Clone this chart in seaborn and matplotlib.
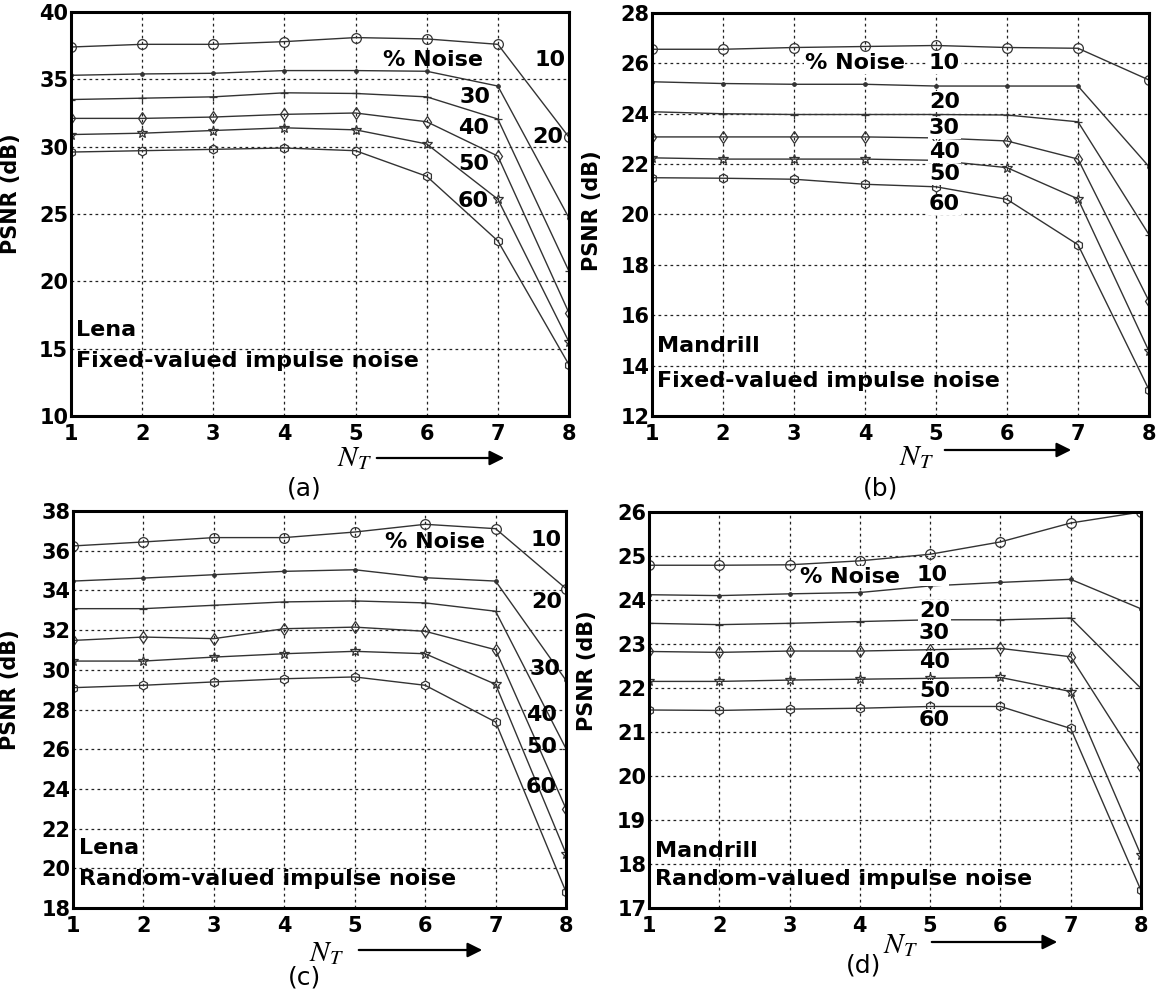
import matplotlib
matplotlib.use("Agg")
import matplotlib.pyplot as plt
from matplotlib.patches import FancyArrowPatch
import numpy as np
import pandas as pd
import seaborn as sns

# ---- data ---------------------------------------------------------------
NT = [1, 2, 3, 4, 5, 6, 7, 8]
NOISE = [10, 20, 30, 40, 50, 60]

# PSNR (dB) per noise level (rows) and N_T (columns)
lena_fixed = [
    [37.4, 37.6, 37.6, 37.8, 38.1, 38.0, 37.6, 30.7],
    [35.3, 35.4, 35.45, 35.65, 35.65, 35.6, 34.5, 24.7],
    [33.5, 33.6, 33.7, 34.0, 33.95, 33.7, 32.05, 20.75],
    [32.1, 32.1, 32.2, 32.4, 32.5, 31.85, 29.3, 17.65],
    [30.9, 31.0, 31.2, 31.4, 31.25, 30.2, 26.1, 15.5],
    [29.6, 29.7, 29.8, 29.9, 29.7, 27.8, 23.0, 13.8],
]
mandrill_fixed = [
    [26.56, 26.56, 26.63, 26.67, 26.71, 26.63, 26.6, 25.34],
    [25.27, 25.2, 25.17, 25.17, 25.1, 25.1, 25.1, 21.9],
    [24.08, 24.0, 23.97, 23.97, 23.97, 23.95, 23.68, 19.2],
    [23.08, 23.08, 23.08, 23.08, 23.04, 22.92, 22.2, 16.56],
    [22.25, 22.2, 22.2, 22.2, 22.15, 21.86, 20.62, 14.57],
    [21.46, 21.44, 21.4, 21.2, 21.1, 20.6, 18.8, 13.04],
]
lena_random = [
    [36.24, 36.44, 36.66, 36.66, 36.94, 37.33, 37.11, 34.09],
    [34.47, 34.62, 34.79, 34.96, 35.04, 34.64, 34.47, 29.47],
    [33.08, 33.08, 33.25, 33.42, 33.47, 33.37, 32.95, 26.03],
    [31.48, 31.65, 31.57, 32.07, 32.15, 31.94, 31.01, 23.0],
    [30.44, 30.44, 30.64, 30.81, 30.93, 30.81, 29.27, 20.74],
    [29.1, 29.22, 29.39, 29.55, 29.64, 29.22, 27.37, 18.81],
]
mandrill_random = [
    [24.79, 24.79, 24.8, 24.89, 25.04, 25.32, 25.75, 26.0],
    [24.12, 24.1, 24.14, 24.17, 24.32, 24.4, 24.47, 23.8],
    [23.47, 23.44, 23.47, 23.51, 23.55, 23.55, 23.59, 21.99],
    [22.83, 22.81, 22.84, 22.84, 22.87, 22.9, 22.71, 20.21],
    [22.15, 22.15, 22.18, 22.2, 22.22, 22.24, 21.92, 18.2],
    [21.5, 21.49, 21.52, 21.54, 21.58, 21.58, 21.08, 17.4],
]

# ---- style --------------------------------------------------------------
sns.set_style("white")
plt.rcParams["font.family"] = ["DejaVu Sans"]
plt.rcParams["mathtext.fontset"] = "stix"
for key in ("text.color", "axes.labelcolor", "xtick.color", "ytick.color"):
    plt.rcParams[key] = "black"

W, H = 1163, 996
fig = plt.figure(figsize=(W / 100, H / 100), dpi=100)
fig.patch.set_facecolor("white")

LINE = "#333333"
MARKERS = {
    10: dict(marker="o", ms=7, mfc="none"),
    20: dict(marker=".", ms=5, mfc=LINE),
    30: dict(marker="+", ms=6, mfc="none"),
    40: dict(marker="d", ms=6.5, mfc="none"),
    50: dict(marker="*", ms=7.5, mfc="none"),
    60: dict(marker="h", ms=6.5, mfc="none"),
}


def px_axes(left, top, right, bottom):
    return fig.add_axes([left / W, 1 - bottom / H, (right - left) / W, (bottom - top) / H])


def fx(x):
    return x / W


def fy(y):
    return 1 - y / H


def draw_panel(ax, table, ylim, ystep, ylab_xy):
    rows = []
    for level, vals in zip(NOISE, table):
        for n, v in zip(NT, vals):
            rows.append({"NT": n, "PSNR": v, "noise": level})
    df = pd.DataFrame(rows)
    for level in NOISE:
        sub = df[df["noise"] == level]
        m = MARKERS[level]
        sns.lineplot(data=sub, x="NT", y="PSNR", ax=ax, color=LINE, lw=1.0,
                     marker=m["marker"], ms=m["ms"], mfc=m["mfc"],
                     mec=LINE, mew=0.9, legend=False, errorbar=None)
    ax.set_xlim(1, 8)
    ax.set_ylim(*ylim)
    ax.set_xticks(NT)
    ax.set_yticks(np.arange(ylim[0], ylim[1] + 0.01, ystep))
    ax.grid(True, color="#222222", linestyle=(0, (2.2, 2.6)), lw=0.9)
    for s in ax.spines.values():
        s.set_linewidth(2.2)
        s.set_color("black")
        s.set_visible(True)
    ax.tick_params(direction="in", length=3, width=1, labelsize=15, pad=2)
    ax.tick_params(axis="x", pad=6)
    for lab in ax.get_xticklabels() + ax.get_yticklabels():
        lab.set_fontweight("heavy")
    ax.set_xlabel("")
    ax.set_ylabel("PSNR (dB)", fontsize=15, fontweight="heavy")
    ax.yaxis.set_label_coords(*ylab_xy)


def text(ax, x, y, s, boxed=False, ha="left"):
    kw = dict(fontsize=16, fontweight="heavy", ha=ha, va="center", color="black")
    if boxed:
        kw["bbox"] = dict(facecolor="white", edgecolor="none", pad=0.5)
    ax.text(x, y, s, **kw)


def nt_label(x, y, x0, x1, ya, tag, tx, ty):
    fig.text(fx(x), fy(y), r"$N_T$", fontsize=21, ha="center", va="center")
    fig.add_artist(FancyArrowPatch((fx(x0), fy(ya)), (fx(x1), fy(ya)),
                                   transform=fig.transFigure, arrowstyle="-|>",
                                   mutation_scale=22, lw=1.6, color="black"))
    fig.text(fx(tx), fy(ty), tag, fontsize=18, ha="center", va="center")


# (a) Lena, fixed-valued impulse noise
ax_a = px_axes(71, 12, 569, 416)
draw_panel(ax_a, lena_fixed, (10, 40), 5, (-0.10, 0.55))
text(ax_a, 5.38, 36.45, "% Noise")
text(ax_a, 7.52, 36.45, "10")
text(ax_a, 6.46, 33.67, "30")
text(ax_a, 6.44, 31.36, "40")
text(ax_a, 6.44, 28.7, "50")
text(ax_a, 6.44, 26.0, "60")
text(ax_a, 7.48, 30.7, "20")
text(ax_a, 1.07, 16.4, "Lena")
text(ax_a, 1.07, 14.05, "Fixed-valued impulse noise")
nt_label(354, 458, 374, 507, 458, "(a)", 304, 488)

# (b) Mandrill, fixed-valued impulse noise
ax_b = px_axes(652, 13, 1149, 416)
draw_panel(ax_b, mandrill_fixed, (12, 28), 2, (-0.10, 0.51))
text(ax_b, 3.15, 26.0, "% Noise", boxed=True)
text(ax_b, 4.9, 26.0, "10", boxed=True)
text(ax_b, 4.9, 24.48, "20", boxed=True)
text(ax_b, 4.9, 23.44, "30", boxed=True)
text(ax_b, 4.9, 22.48, "40", boxed=True)
text(ax_b, 4.9, 21.6, "50", boxed=True)
text(ax_b, 4.9, 20.4, "60", boxed=True)
text(ax_b, 1.07, 14.77, "Mandrill")
text(ax_b, 1.07, 13.4, "Fixed-valued impulse noise")
nt_label(916, 457, 942, 1074, 450, "(b)", 881, 488)

# (c) Lena, random-valued impulse noise
ax_c = px_axes(73, 511, 566, 908)
draw_panel(ax_c, lena_random, (18, 38), 2, (-0.107, 0.55))
text(ax_c, 5.43, 36.44, "% Noise")
text(ax_c, 7.50, 36.52, "10")
text(ax_c, 7.50, 33.42, "20")
text(ax_c, 7.48, 30.06, "30")
text(ax_c, 7.43, 27.7, "40")
text(ax_c, 7.43, 26.1, "50")
text(ax_c, 7.43, 24.1, "60")
text(ax_c, 1.08, 21.0, "Lena")
text(ax_c, 1.08, 19.48, "Random-valued impulse noise")
nt_label(326, 953, 356, 485, 950, "(c)", 304, 977)

# (d) Mandrill, random-valued impulse noise
ax_d = px_axes(649, 512, 1141, 908)
draw_panel(ax_d, mandrill_random, (17, 26), 1, (-0.106, 0.60))
text(ax_d, 3.15, 24.52, "% Noise", boxed=True)
text(ax_d, 4.81, 24.57, "10", boxed=True)
text(ax_d, 4.84, 23.75, "20", boxed=True)
text(ax_d, 4.84, 23.25, "30", boxed=True)
text(ax_d, 4.84, 22.6, "40", boxed=True)
text(ax_d, 4.84, 21.94, "50", boxed=True)
text(ax_d, 4.84, 21.27, "60", boxed=True)
text(ax_d, 1.08, 18.3, "Mandrill")
text(ax_d, 1.08, 17.67, "Random-valued impulse noise")
nt_label(900, 945, 929, 1060, 942, "(d)", 864, 965)

fig.savefig("out.png", dpi=100, facecolor="white")
